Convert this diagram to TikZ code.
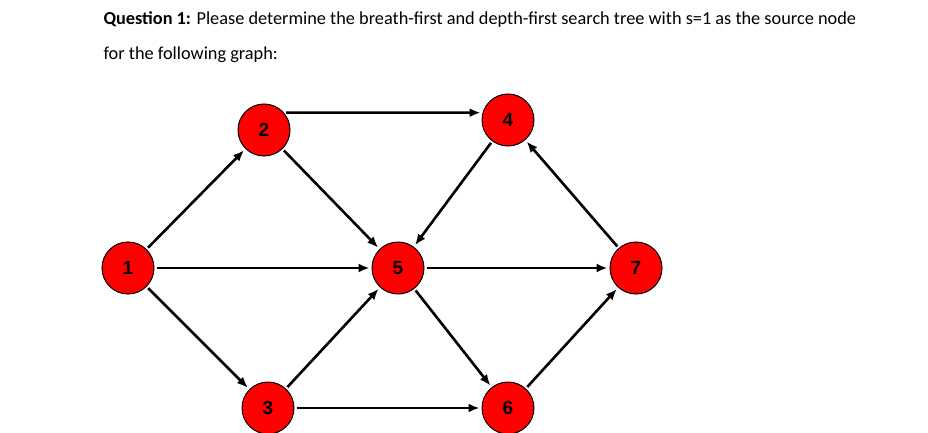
\documentclass[tikz,border=0pt]{standalone}
\usepackage{fontspec}
\setmainfont{Carlito}
\newfontfamily\arialf{Liberation Sans}
\usetikzlibrary{arrows.meta}
\begin{document}
\begin{tikzpicture}[x=1pt,y=-1pt,
  vtx/.style={circle,draw=black,line width=1pt,fill=red,minimum size=52pt,inner sep=0pt,font=\arialf\bfseries\fontsize{19}{19}\selectfont},
  edge/.style={-{Latex[length=11pt,width=9pt]},line width=2.6pt,shorten >=2pt,shorten <=2pt}]
\useasboundingbox (0,0) rectangle (928,433);
\node[anchor=west,font=\fontsize{18.3}{22}\selectfont] (t1) at (100,20) {\textbf{Question 1:} Please determine the breath-first and depth-first search tree with s=1 as the source node};
\node[anchor=west,font=\fontsize{18.3}{22}\selectfont] (t2) at (100,55) {for the following graph:};
\node[vtx] (n1) at (128,268) {1};
\node[vtx] (n2) at (264,130) {2};
\node[vtx] (n3) at (268,408) {3};
\node[vtx] (n4) at (508,120) {4};
\node[vtx] (n5) at (398,268) {5};
\node[vtx] (n6) at (508,408) {6};
\node[vtx] (n7) at (636,268) {7};
\draw[edge] (n1) -- (n2);
\draw[edge] (n1) -- (n5);
\draw[edge] (n1) -- (n3);
\draw[edge] (n2.41) -- (n4.164);
\draw[edge] (n2) -- (n5);
\draw[edge] (n4) -- (n5);
\draw[edge] (n3) -- (n5);
\draw[edge] (n3) -- (n6);
\draw[edge] (n5) -- (n7);
\draw[edge] (n5) -- (n6);
\draw[edge] (n7) -- (n4);
\draw[edge] (n6) -- (n7);
\end{tikzpicture}
\end{document}
